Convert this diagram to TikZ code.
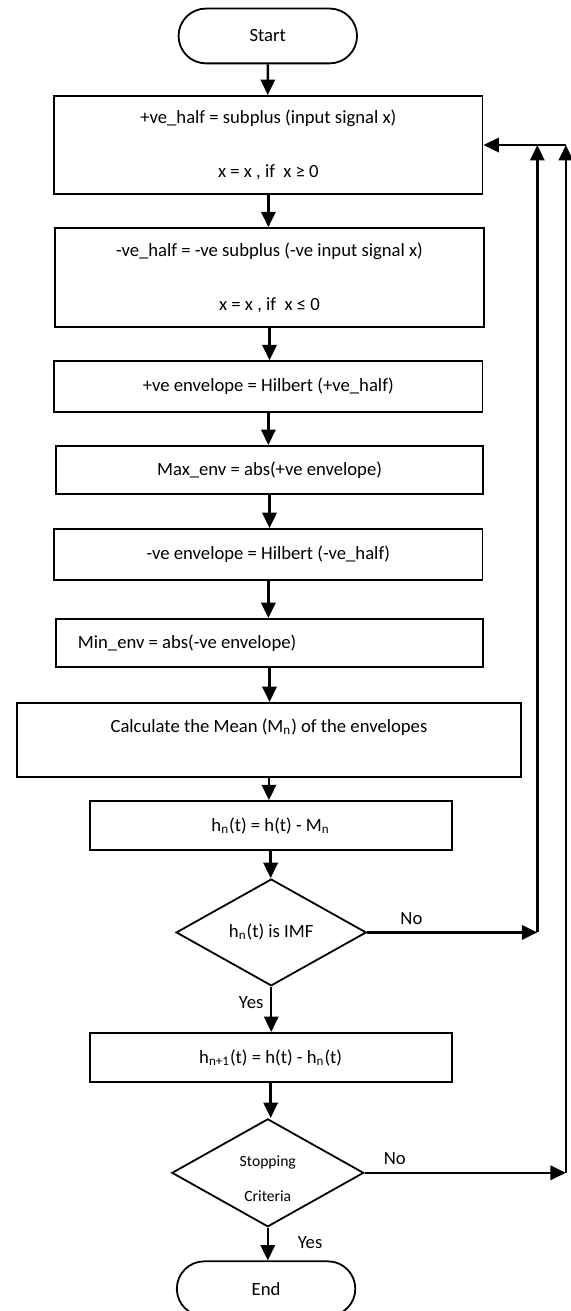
\documentclass[tikz,border=0pt]{standalone}
\usepackage{fontspec}
\setmainfont{Carlito}
\usetikzlibrary{arrows.meta}
\usetikzlibrary{shapes.geometric}
\usetikzlibrary{shapes.misc}

\begin{document}
\begin{tikzpicture}[>/.tip={Triangle[length=2.7mm,width=2.5mm]},
	font=\fontsize{9.3}{11}\selectfont,
	box/.style={draw,line width=0.9pt,minimum width=7.5cm,inner sep=0pt,align=center},
	term/.style={draw,line width=0.9pt,rounded rectangle,minimum width=3.36cm,minimum height=0.96cm},
	test/.style={draw,line width=0.9pt,diamond,aspect=1.78,inner sep=0pt,align=center},
	flow/.style={->,line width=1.2pt}]
	\useasboundingbox (0,0) rectangle (10,-22.96);
	\draw (4.69,-0.63) node(S) [term] {Start};
	\draw (4.70,-2.54) node(B1) [box,minimum height=1.72cm] {+ve\_half = subplus (input signal x)\\[16pt]x = x , if~ x ≥ 0};
	\draw (4.72,-4.86) node(B2) [box,minimum height=1.73cm] {-ve\_half = -ve subplus (-ve input signal x)\\[16pt]x = x , if~ x ≤ 0};
	\draw (4.70,-6.77) node(B3) [box,minimum height=0.89cm] {+ve envelope = Hilbert (+ve\_half)};
	\draw (4.72,-8.23) node(B4) [box,minimum width=7.47cm,minimum height=0.84cm] {Max\_env = abs(+ve envelope)};
	\draw (4.70,-9.71) node(B5) [box,minimum height=0.89cm] {-ve envelope = Hilbert (-ve\_half)};
	\draw (4.72,-11.26) node(B6) [box,minimum width=7.47cm,minimum height=0.84cm,inner xsep=0.38cm] {\makebox[6.71cm][l]{Min\_env = abs(-ve envelope)}};
	\draw (4.71,-12.96) node(B7) [box,minimum width=8.83cm,minimum height=1.30cm] {Calculate the Mean (M\textsubscript{n}) of the envelopes\\[3pt]\mbox{}};
	\draw (4.74,-14.46) node(B8) [box,minimum width=6.34cm,minimum height=0.86cm] {h\textsubscript{n}(t) = h(t) - M\textsubscript{n}};
	\draw (4.75,-16.33) node(D1) [test,minimum width=3.33cm,minimum height=1.87cm] {h\textsubscript{n}(t) is IMF};
	\draw (4.74,-18.52) node(B9) [box,minimum width=6.34cm,minimum height=0.86cm] {h\textsubscript{n+1}(t) = h(t) - h\textsubscript{n}(t)};
	\draw (4.69,-20.54) node(D2) [test,minimum width=3.36cm,minimum height=1.89cm,text height=29pt,font=\fontsize{7.8}{9.5}\selectfont] {Stopping\\[8pt]Criteria};
	\draw (4.66,-22.57) node(E) [term] {End};
	\coordinate (R1) at (9.41,-16.33);
	\coordinate (R2) at (9.91,-20.54);
	% main column
	\draw[flow] (S) -- (S |- B1.north);
	\draw[flow] (B1) -- (B1 |- B2.north);
	\draw[flow] (B2) -- (B2 |- B3.north);
	\draw[flow] (B3) -- (B3 |- B4.north);
	\draw[flow] (B4) -- (B4 |- B5.north);
	\draw[flow] (B5) -- (B5 |- B6.north);
	\draw[flow] (B6) -- (B6 |- B7.north);
	\draw[flow] (B7) -- (B7 |- B8.north);
	\draw[flow] (B8) -- (B8 |- D1.north);
	\draw[flow] (D1) -- (D1 |- B9.north) node [pos=0.36,left] {Yes};
	\draw[flow] (B9) -- (B9 |- D2.north);
	\draw[flow] (D2) -- (D2 |- E.north) node [pos=0.46,right=0.39cm] {Yes};
	% loops back
	\draw[flow] (D1) -- (R1) node [pos=0.26,above] {No};
	\draw[flow] (R1) -- (R1 |- B1.east);
	\draw[flow] (D2) -- (R2) node [pos=0.15,above] {No};
	\draw[flow] (R2) -- (R2 |- B1.east);
	\draw[flow] (R2 |- B1.east) -- (B1);
\end{tikzpicture}
\end{document}
